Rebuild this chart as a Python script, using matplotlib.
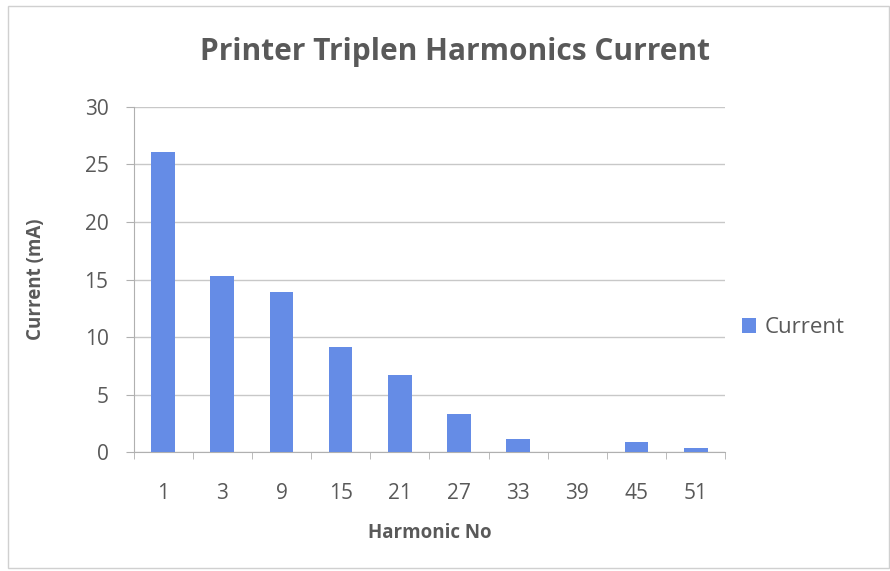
import matplotlib.pyplot as plt
from matplotlib.patches import Rectangle

# harmonic orders and measured current
harmonics = ['1', '3', '9', '15', '21', '27', '33', '39', '45', '51']
current_ma = [26.1, 15.3, 13.9, 9.1, 6.7, 3.35, 1.15, 0.0, 0.9, 0.4]

plt.rcParams['font.family'] = ['Open Sans', 'DejaVu Sans']

text_grey = '#595959'
bar_blue = '#658ce6'

fig = plt.figure(figsize=(8.9, 5.71), dpi=100)
ax = fig.add_axes([0.150, 0.208, 0.665, 0.605])

x = list(range(len(harmonics)))
ax.bar(x, current_ma, width=0.4, color=bar_blue, label='Current', zorder=3)

ax.set_xlim(-0.5, len(harmonics) - 0.5)
ax.set_ylim(0, 30)
ax.set_yticks(range(0, 31, 5))
ax.set_xticks(x)
ax.set_xticklabels(harmonics)
ax.grid(axis='y', color='#c8c8c8', linewidth=1, zorder=0)

# excel-style category ticks between bars
ax.set_xticks([i - 0.5 for i in range(len(harmonics) + 1)], minor=True)
ax.tick_params(axis='x', which='major', length=0, pad=22, labelsize=15, colors=text_grey)
ax.tick_params(axis='x', which='minor', length=5, color='#b0b0b0')
ax.tick_params(axis='y', length=6, color='#b0b0b0', labelsize=15, colors=text_grey, pad=12)

for side in ['top', 'right']:
    ax.spines[side].set_visible(False)
for side in ['left', 'bottom']:
    ax.spines[side].set_color('#b0b0b0')

ax.set_ylabel('Current (mA)', fontsize=13.5, fontweight='bold', color=text_grey, labelpad=28)
ax.set_xlabel('Harmonic No', fontsize=13.5, fontweight='bold', color=text_grey, labelpad=14)

fig.text(0.511, 0.909, 'Printer Triplen Harmonics Current', ha='center', va='center',
         fontsize=21.5, fontweight='bold', color=text_grey)

leg = ax.legend(loc='center left', bbox_to_anchor=(0.995, 0.36), frameon=False,
                fontsize=16, handlelength=0.6, handleheight=0.6, handletextpad=0.4)
for t in leg.get_texts():
    t.set_color(text_grey)

# outer chart border
fig.patches.append(Rectangle((0.009, 0.005), 0.99, 0.985, transform=fig.transFigure,
                             fill=False, edgecolor='#d0d0d0', linewidth=1))

fig.savefig('out.png', dpi=100)
